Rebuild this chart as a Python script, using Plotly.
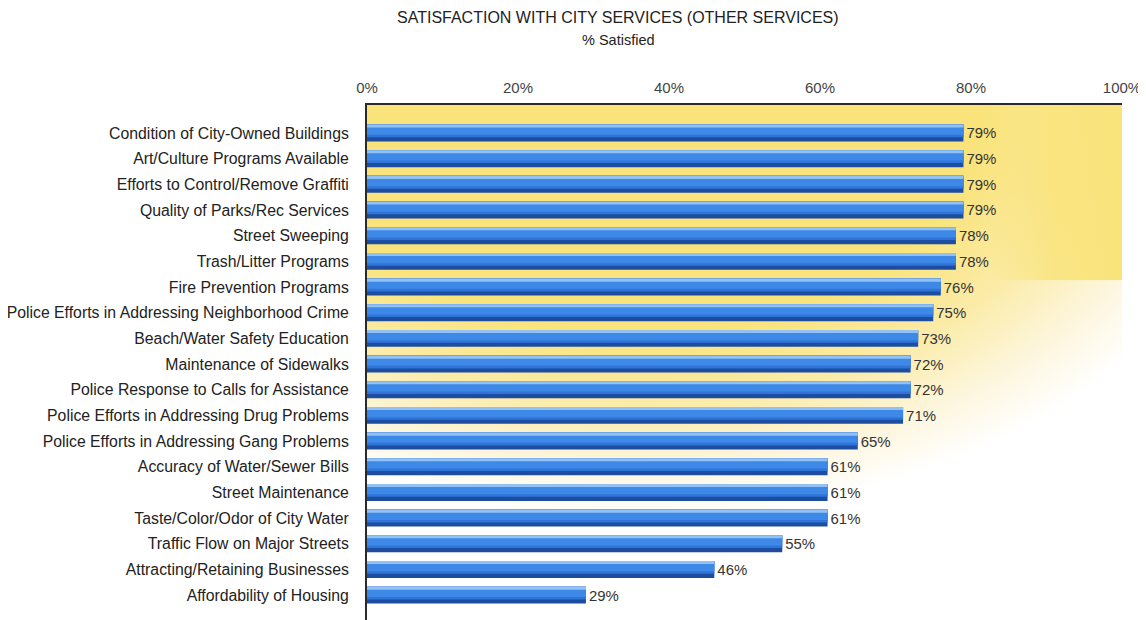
import base64
import plotly.graph_objects as go

categories = [
    "Condition of City-Owned Buildings",
    "Art/Culture Programs Available",
    "Efforts to Control/Remove Graffiti",
    "Quality of Parks/Rec Services",
    "Street Sweeping",
    "Trash/Litter Programs",
    "Fire Prevention Programs",
    "Police Efforts in Addressing Neighborhood Crime",
    "Beach/Water Safety Education",
    "Maintenance of Sidewalks",
    "Police Response to Calls for Assistance",
    "Police Efforts in Addressing Drug Problems",
    "Police Efforts in Addressing Gang Problems",
    "Accuracy of Water/Sewer Bills",
    "Street Maintenance",
    "Taste/Color/Odor of City Water",
    "Traffic Flow on Major Streets",
    "Attracting/Retaining Businesses",
    "Affordability of Housing",
]
satisfied = [79, 79, 79, 79, 78, 78, 76, 75, 73, 72, 72, 71, 65, 61, 61, 61, 55, 46, 29]
tick_vals = [0, 20, 40, 60, 80, 100]
tick_text = ["0%", "20%", "40%", "60%", "80%", "100%"]

FONT = "Liberation Sans, Arial, sans-serif"

# page body has an 8px margin; compensate so the plot lands where the reference has it
OFF = 8
L, R, T, B = 367 - OFF, 1146 - (1122 - OFF), 105 - OFF, OFF

svg = (
    '<svg xmlns="http://www.w3.org/2000/svg" width="100" height="100" '
    'viewBox="0 0 100 100" preserveAspectRatio="none">'
    '<defs>'
    '<radialGradient id="g" gradientUnits="userSpaceOnUse" cx="36" cy="0" r="100" '
    'gradientTransform="translate(36,0) scale(0.82,0.8) translate(-36,0)">'
    '<stop offset="0" stop-color="#F9E37A"/>'
    '<stop offset="0.55" stop-color="#F9E37A"/>'
    '<stop offset="0.72" stop-color="#FBEBA6"/>'
    '<stop offset="0.88" stop-color="#FDF6DE"/>'
    '<stop offset="1" stop-color="#FFFFFF"/>'
    '</radialGradient>'
    '<linearGradient id="h" x1="0" y1="0" x2="1" y2="0">'
    '<stop offset="0" stop-color="#F9E37A" stop-opacity="0"/>'
    '<stop offset="0.5" stop-color="#F9E37A" stop-opacity="0.85"/>'
    '<stop offset="1" stop-color="#F9E37A" stop-opacity="1"/>'
    '</linearGradient>'
    '</defs>'
    '<rect x="0" y="0" width="100" height="98" fill="url(#g)"/>'
    '<rect x="82" y="0" width="18" height="34" fill="url(#h)"/>'
    '</svg>'
)
svg_uri = "data:image/svg+xml;base64," + base64.b64encode(svg.encode()).decode()

fig = go.Figure()

layers = [
    ("#1D4DA0", -0.33, 0.66),   # dark bottom (full bar)
    ("#2F74D8", -0.33, 0.50),   # mid blue
    ("#3E88E8", -0.33, 0.40),   # brighter blue
    ("#92C2F4", -0.33, 0.12),   # highlight top
]
for i, (col, off, w) in enumerate(layers):
    fig.add_trace(go.Bar(
        x=satisfied, y=categories, orientation="h",
        marker=dict(color=col, line=dict(width=0)),
        offset=off, width=w,
        text=[f"{v}%" for v in satisfied] if i == 0 else None,
        texttemplate="%{text}" if i == 0 else None,
        textposition="outside" if i == 0 else "none",
        textfont=dict(family=FONT, size=15, color="#333333"),
        cliponaxis=False,
        hoverinfo="skip",
        showlegend=False,
    ))

title_x = (618 - 367) / 755
fig.update_layout(
    width=1146, height=620,
    margin=dict(l=L, r=R, t=T, b=B, autoexpand=False),
    paper_bgcolor="white",
    plot_bgcolor="rgba(0,0,0,0)",
    barmode="overlay",
    font=dict(family=FONT, color="#333333"),
    images=[dict(source=svg_uri, xref="paper", yref="paper", x=0, y=1,
                 sizex=1, sizey=1, sizing="stretch", layer="below")],
    xaxis=dict(
        range=[0, 100], side="top", tickvals=tick_vals, ticktext=tick_text,
        showgrid=False, zeroline=False, showline=True, linecolor="#2A2A2A",
        linewidth=2, ticks="", ticklabelstandoff=4, automargin=False,
        tickfont=dict(family=FONT, size=15, color="#444444"),
    ),
    yaxis=dict(
        range=[18.97, -1.09], showgrid=False, zeroline=False, showline=True,
        linecolor="#2A2A2A", linewidth=2, ticks="", ticklabelstandoff=13,
        automargin=False,
        tickfont=dict(family=FONT, size=15.8, color="#222222"),
    ),
    annotations=[
        dict(text="SATISFACTION WITH CITY SERVICES (OTHER SERVICES)",
             xref="paper", yref="paper", x=title_x, y=1 + (105 - 17) / 515,
             xanchor="center", yanchor="middle", showarrow=False,
             font=dict(family=FONT, size=16, color="#222222")),
        dict(text="% Satisfied",
             xref="paper", yref="paper", x=title_x, y=1 + (105 - 40) / 515,
             xanchor="center", yanchor="middle", showarrow=False,
             font=dict(family=FONT, size=14.5, color="#222222")),
    ],
)

fig.write_html("out.html")
